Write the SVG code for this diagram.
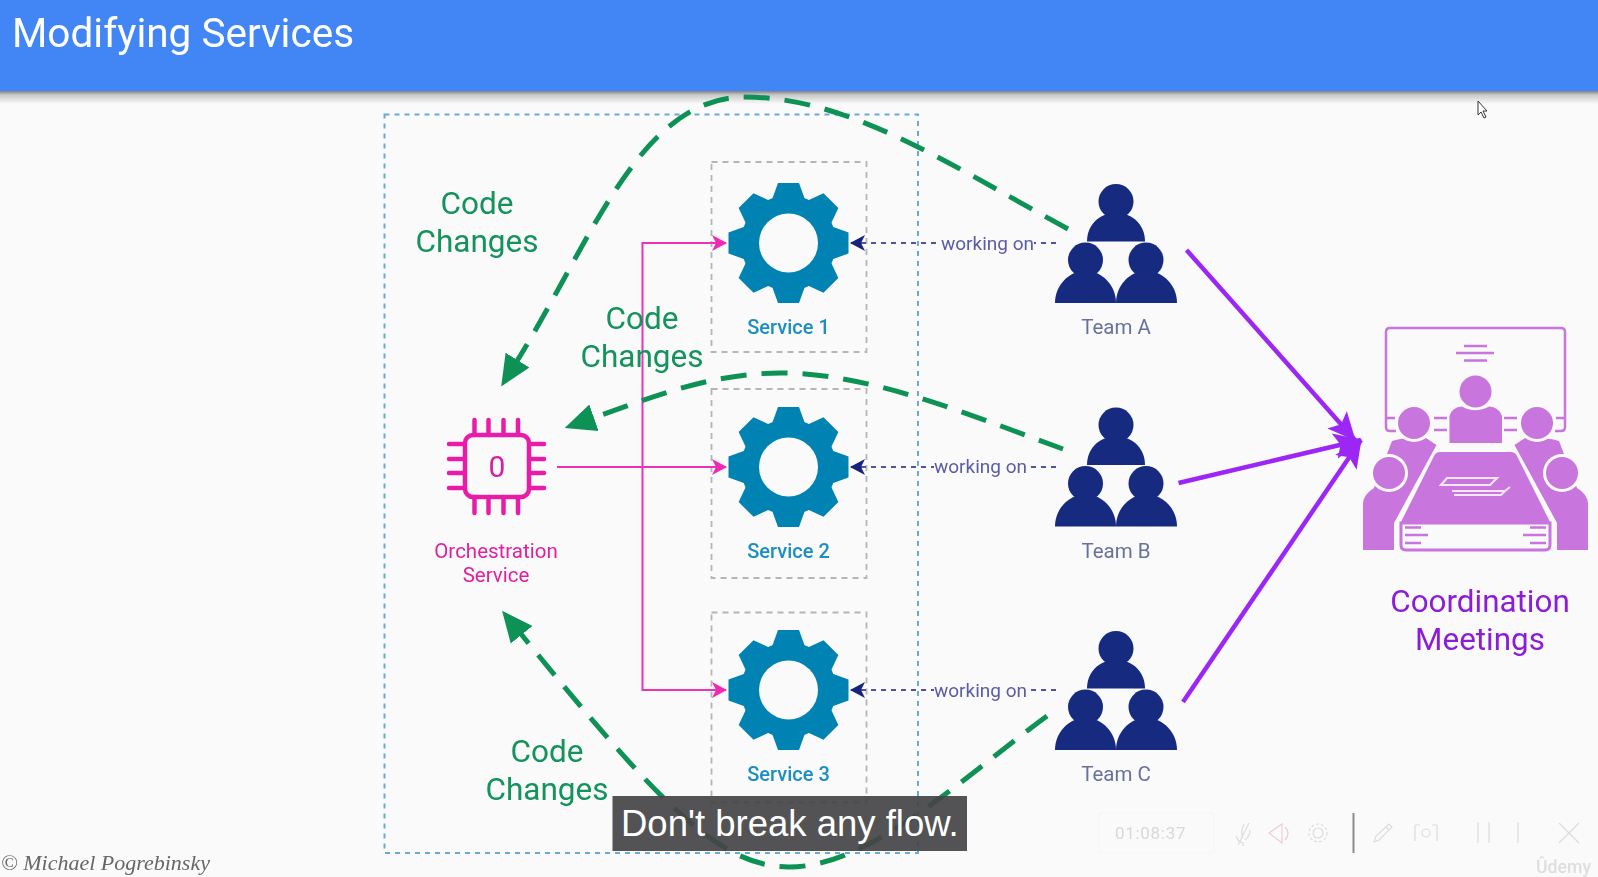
<svg xmlns="http://www.w3.org/2000/svg" width="1598" height="877" viewBox="0 0 1598 877">
<style>
text{font-family:Roboto,"Liberation Sans",sans-serif}
.soft{filter:url(#soft)}
.code{font-size:31.500px;fill:#12925c;text-anchor:middle}
.svc{font-size:20px;font-weight:500;fill:#1b8fc0;text-anchor:middle}
.team{font-size:20.500px;fill:#67719c;text-anchor:middle}
.work{font-size:19px;fill:#5a5ca6}
.orch{font-size:20.500px;fill:#e0209f;text-anchor:middle}
.coord{font-size:31.400px;fill:#8c1fd6;text-anchor:middle}
.box{fill:none;stroke:#b5b5b5;stroke-width:1.800;stroke-dasharray:6 5}
.green{fill:none;stroke:#0e9155;stroke-width:5;stroke-dasharray:26 15}
.pink{fill:none;stroke:#ee30b8;stroke-width:2}
.navy{fill:none;stroke:#5153a0;stroke-width:2;stroke-dasharray:5 5}
.purple{fill:none;stroke:#9b27f5;stroke-width:4.500}
.chip{fill:none;stroke:#e81fa9;stroke-width:4.500;stroke-linecap:round}
.mp{fill:#c874de}
.ml{fill:none;stroke:#c874de;stroke-width:2.500}
.bg{fill:#fafafa}
.tool{fill:none;stroke:#dcdcdc;stroke-width:1.200}
</style>
<defs>
<filter id="soft" x="-2%" y="-2%" width="104%" height="104%"><feGaussianBlur stdDeviation="0.55"/></filter>
<linearGradient id="sh" x1="0" y1="0" x2="0" y2="1"><stop offset="0" stop-color="#6f6f6f"/><stop offset=".35" stop-color="#c9c9c9"/><stop offset="1" stop-color="#fafafa"/></linearGradient>
<marker id="mg" markerUnits="userSpaceOnUse" markerWidth="40" markerHeight="40" refX="1" refY="20" orient="auto"><path d="M0 6L31 20L0 34Z" fill="#0e9155"/></marker>
<marker id="mp" markerUnits="userSpaceOnUse" markerWidth="20" markerHeight="20" refX="14" refY="10" orient="auto"><path d="M0 2L15 10L0 18L4 10Z" fill="#ee2bb5"/></marker>
<marker id="mn" markerUnits="userSpaceOnUse" markerWidth="20" markerHeight="20" refX="14" refY="10" orient="auto"><path d="M0 2L15 10L0 18L4 10Z" fill="#15207e"/></marker>
<marker id="mv" markerUnits="userSpaceOnUse" markerWidth="40" markerHeight="40" refX="27" refY="20" orient="auto"><path d="M0 7L28 20L0 33L6 20Z" fill="#9b27f5"/></marker>
<g id="gear">
<circle r="47.500" fill="#0482b2"/>
<g id="t2"><path id="t1" d="M42-17L60-10.500V10.500L42 17Z" fill="#0482b2"/><use href="#t1" transform="rotate(180)"/></g>
<use href="#t2" transform="rotate(45)"/><use href="#t2" transform="rotate(90)"/><use href="#t2" transform="rotate(135)"/>
<circle r="29.500" class="bg"/>
</g>
<g id="team" fill="#172a80">
<circle cx="1116" cy="201.500" r="17.500"/>
<path d="M1087 241.500C1087 226 1098 213 1116 213C1134 213 1145 226 1145 241.500Z"/>
<circle cx="1085.500" cy="260" r="17.500"/>
<path d="M1055 303C1055 286 1068 271 1085.500 271C1103 271 1116 286 1116 303Z"/>
<circle cx="1146" cy="260" r="17.500"/>
<path d="M1116 303C1116 286 1129 271 1146 271C1164 271 1177 286 1177 303Z"/>
</g>
<g id="mside">
<path class="mp" d="M1363 550V503Q1364 494 1374 488L1392 441Q1408 436 1426 438L1436.500 445L1394 523V550Z"/>
<circle cx="1414" cy="423" r="19" class="bg"/><circle cx="1414" cy="423" r="16" class="mp"/>
<circle cx="1389" cy="473" r="19" class="bg"/><circle cx="1389" cy="473" r="16" class="mp"/>
<path class="ml" d="M1434 418h13M1434 430h13M1386 418h9"/>
<path class="ml" d="M1405 527.500h16M1405 535h23M1405 543h16"/>
</g>
</defs>

<rect width="1598" height="877" class="bg"/>
<g id="header">
<rect y="90" width="1598" height="14" fill="url(#sh)"/>
<rect width="1598" height="91" fill="#4286f6"/>
<text class="soft" x="12" y="47" fill="#fff" style="font-size:40.500px">Modifying Services</text>
</g>

<g id="boundary" class="soft"><rect x="384.500" y="114.500" width="533.500" height="738.500" fill="none" stroke="#6aa9d6" stroke-width="2" stroke-dasharray="5 5"/></g>

<g id="service-1" class="soft">
<rect class="box" x="711.500" y="162" width="155" height="190"/>
<use href="#gear" x="788.500" y="243"/>
<text class="svc" x="788.500" y="334">Service 1</text>
</g>
<g id="service-2" class="soft">
<rect class="box" x="711.500" y="389" width="155" height="189"/>
<use href="#gear" x="788.500" y="467"/>
<text class="svc" x="788.500" y="557.500">Service 2</text>
</g>
<g id="service-3" class="soft">
<rect class="box" x="711.500" y="612.500" width="155" height="190"/>
<use href="#gear" x="788.500" y="690"/>
<text class="svc" x="788.500" y="781">Service 3</text>
</g>

<g id="orchestration-service" class="soft">
<rect x="465" y="435" width="64" height="62" rx="8" class="chip"/>
<path class="chip" d="M474.500 420V435M488.500 420V435M503.500 420V435M518 420V435M474.500 497V513M488.500 497V513M503.500 497V513M518 497V513M449 444H465M449 459H465M449 473H465M449 488H465M529 444H544M529 459H544M529 473H544M529 488H544"/>
<text x="497" y="477" fill="#d4219f" text-anchor="middle" style="font-size:30px">0</text>
<text class="orch" x="496" y="557.500">Orchestration</text>
<text class="orch" x="496" y="581.500">Service</text>
</g>

<g id="team-a" class="soft"><use href="#team"/><text class="team" x="1116" y="334">Team A</text></g>
<g id="team-b" class="soft"><use href="#team" y="223.500"/><text class="team" x="1116" y="557.500">Team B</text></g>
<g id="team-c" class="soft"><use href="#team" y="447"/><text class="team" x="1116" y="781">Team C</text></g>

<g id="coordination-meetings" class="soft">
<path class="ml" d="M1396 431h-6q-4 0-4-4V332q0-4 4-4H1561q4 0 4 4V427q0 4-4 4h-6"/>
<path class="ml" d="M1464 346h23M1456 353h38M1464 360.500h23"/>
<use href="#mside"/>
<use href="#mside" transform="translate(2951 0) scale(-1 1)"/>
<path class="mp" d="M1449.500 443V416Q1452 407 1462 406.500Q1475 414 1489 406.500Q1499 407 1502 416V443Z"/>
<circle cx="1475.500" cy="391.500" r="16" class="mp"/>
<path class="mp" d="M1440 452H1511Q1515 452 1517 456L1551 524H1400L1434 456Q1436 452 1440 452Z"/>
<path d="M1401 523H1550V545Q1550 550 1545 550H1406Q1401 550 1401 545Z" fill="none" stroke="#c874de" stroke-width="3"/>
<path d="M1447 478H1497L1490 485H1441ZM1452 491H1505L1510 487M1454 495H1501L1505 491" fill="none" stroke="#f6e6fa" stroke-width="2.200"/>
<text class="coord" x="1480" y="612">Coordination</text>
<text class="coord" x="1480" y="650">Meetings</text>
</g>

<g id="connectors" class="soft">
<path class="pink" d="M557 467H726" stroke-width="1.600" marker-end="url(#mp)"/>
<path class="pink" d="M642.500 467V243H726" marker-end="url(#mp)"/>
<path class="pink" d="M642.500 467V690H726" marker-end="url(#mp)"/>
<path class="navy" d="M1056 243H851" marker-end="url(#mn)"/>
<path class="navy" d="M1056 467H851" marker-end="url(#mn)"/>
<path class="navy" d="M1056 690H851" marker-end="url(#mn)"/>
<path class="green" d="M1068 229C950 165 850 97 745 97C640 97 592 240 517 361" marker-end="url(#mg)"/>
<path class="green" d="M1063 449C970 415 870 373 781 373C710 373 650 398 593 418" marker-end="url(#mg)"/>
<path class="green" d="M1047 716C960 780 870 867 789 867C720 867 660 805 521 634" marker-end="url(#mg)"/>
<path class="purple" d="M1186.500 250L1355 440" marker-end="url(#mv)"/>
<path class="purple" d="M1178.500 483L1361 440" marker-end="url(#mv)"/>
<path class="purple" d="M1183 702L1361 440" marker-end="url(#mv)"/>
</g>

<g id="labels" class="soft">
<rect x="941" y="232" width="93" height="24" class="bg"/>
<rect x="934" y="456" width="93" height="24" class="bg"/>
<rect x="934" y="679" width="93" height="24" class="bg"/>
<text class="work" x="941" y="250">working on</text>
<text class="work" x="934" y="473">working on</text>
<text class="work" x="934" y="697">working on</text>
<text class="code" x="477" y="214">Code</text><text class="code" x="477" y="252">Changes</text>
<text class="code" x="642" y="329">Code</text><text class="code" x="642" y="367">Changes</text>
<text class="code" x="547" y="762">Code</text><text class="code" x="547" y="800">Changes</text>
</g>

<g id="overlay">
<text class="soft" x="1" y="870" fill="#666" style="font-family:'Liberation Serif',serif;font-style:italic;font-size:22px">© Michael Pogrebinsky</text>
<rect x="612.500" y="796" width="354.500" height="55" fill="#444446" fill-opacity=".92"/>
<text x="621" y="836" fill="#fff" style="font-family:'Liberation Sans',sans-serif;font-size:36.500px">Don't break any flow.</text>
<g id="toolbar" class="soft">
<rect x="1099" y="813" width="115" height="40" rx="3" fill="none" stroke="#f4f4f4"/>
<text x="1115" y="839" fill="#d8d8d8" style="font-size:17px;letter-spacing:.7px">01:08:37</text>
<path class="tool" d="M1249 823L1238 845M1244 824Q1240 832 1243 838M1250 830Q1250 836 1245 840M1236 836Q1238 842 1243 843V846"/>
<path class="tool" style="stroke:#eccdd3" d="M1269 833L1282 824V843ZM1285 827Q1291 833 1285 840"/>
<circle class="tool" cx="1318" cy="833" r="5"/><circle class="tool" cx="1318" cy="833" r="9" stroke-dasharray="3 2"/>
<path d="M1353.500 813V853" stroke="#8a8a8a" stroke-width="2"/>
<path class="tool" d="M1374 842L1376 836L1389 824L1392 827L1379 840ZM1386 827L1389 830"/>
<path class="tool" d="M1415 825V841M1437 825V841M1415 825H1420M1432 825H1437"/><circle class="tool" cx="1426" cy="833" r="4"/>
<path class="tool" d="M1478 822V843M1489 822V843M1518 822V843M1559 823L1579 843M1579 823L1559 843"/>
<text x="1536" y="873" fill="#dedede" style="font-size:17.700px;font-weight:500">Ûdemy</text>
</g>
<path d="M1478 101V115L1481 112L1484 118L1486 117L1483 111H1487Z" fill="#fff" stroke="#333"/>
</g>
</svg>
